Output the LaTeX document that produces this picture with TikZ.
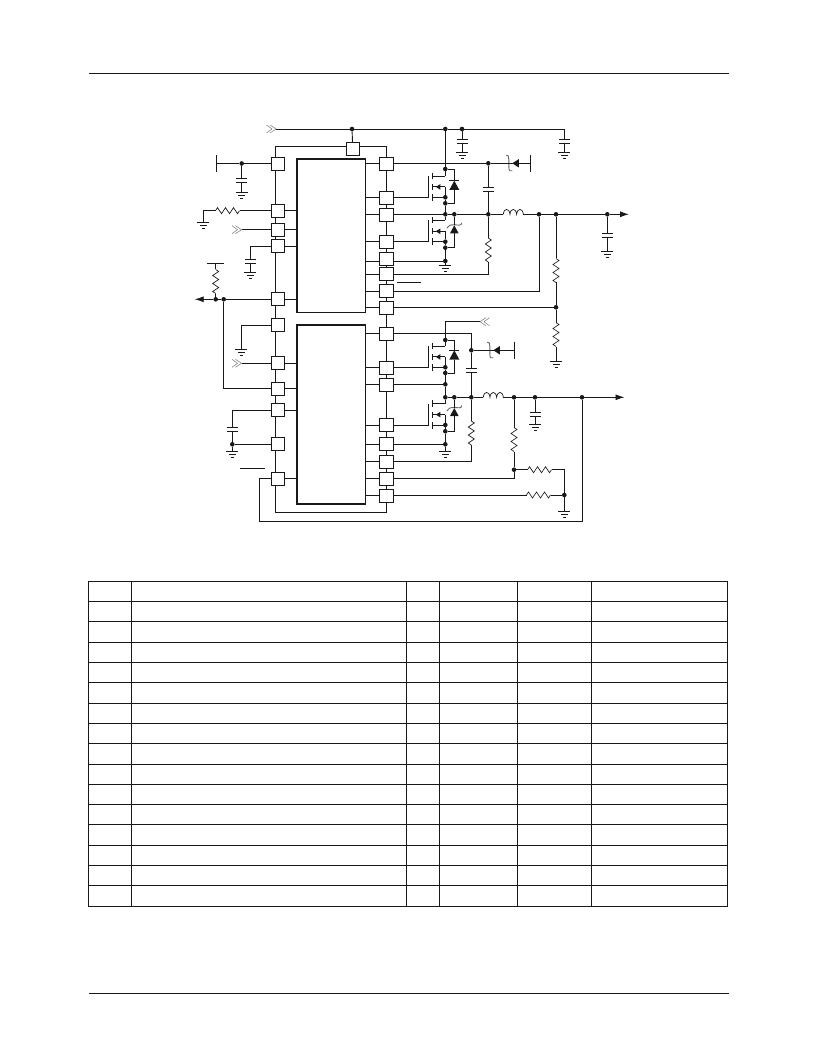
\documentclass[tikz,border=0pt]{standalone}
\usepackage{xcolor}
\usepackage{tikz}
\usetikzlibrary{calc, arrows.meta}

\begin{document}
\begin{tikzpicture}[x=1pt, y=-1pt, line width=0.9pt, color=black!90]
	\tikzset{dot/.style={circle, fill, inner sep=0pt, minimum size=4.6pt, outer sep=0pt}}
	\tikzset{pinbox/.style={draw, fill=white, rectangle, inner sep=0pt, outer sep=0pt, minimum width=13.4pt, minimum height=13pt}}
	\tikzset{chip/.style={draw, rectangle, inner sep=0pt, outer sep=0pt, minimum width=68.3pt}}
	\tikzset{edge/.style={line width=1.7pt, line cap=rect}}
	\tikzset{arrow/.style={-{Latex[length=9pt, width=6pt]}}}
	\tikzset{gnd/.pic={
		\coordinate (-in) at (0,0);
		\draw (-6,0) -- (6,0) (-3.5,3) -- (3.5,3) (-1.5,6) -- (1.5,6);
	}}
	\tikzset{capv/.pic={
		\coordinate (-a) at (0,0);
		\coordinate (-b) at (0,4);
		\draw (-5.5,0) -- (5.5,0) (-5.5,4) -- (5.5,4);
	}}
	\tikzset{res/.pic={
		\coordinate (-a) at (0,0);
		\coordinate (-b) at (24,0);
		\draw[line width=0.65pt] (0,0) -- (2,-3) -- (6,3) -- (10,-3) -- (14,3) -- (18,-3) -- (22,3) -- (24,0);
	}}
	\tikzset{ind/.pic={
		\coordinate (-a) at (0,0);
		\coordinate (-b) at (20,0);
		\draw[line width=0.7pt] (0,0) .. controls (0.5,-6.5) and (6,-6.5) .. (6.67,0) .. controls (7.2,-6.5) and (12.7,-6.5) .. (13.33,0) .. controls (13.9,-6.5) and (19.5,-6.5) .. (20,0);
	}}
	\tikzset{chev/.pic={
		\draw[gray, line width=0.55pt] (-9.5,-4) -- (-4,0) -- (-9.5,4) (-6,-4) -- (0,0) -- (-6,4);
	}}
	\tikzset{mosfet/.pic={
		\coordinate (-top) at (0,0);
		\coordinate (-mid) at (0,10.8);
		\coordinate (-gate) at (-16.6,21.2);
		\draw (-16.6,21.2) -- (-16.6,0);
		\draw (-13,-3.5) -- (-13,3) (-13,8) -- (-13,14) (-13,18) -- (-13,25);
		\draw (-13,0) -- (0,0) (-13,10.8) -- (0,10.8) (-13,21.2) -- (0,21.2);
		\fill (-9.5,10.8) -- (-5,8) -- (-5,13.6) -- cycle;
	}}
	\tikzset{diodeup/.pic={
		\fill (0,0) -- (-5,9.3) -- (5,9.3) -- cycle;
		\draw (-5,0) -- (5,0);
	}}
	\tikzset{zenerup/.pic={
		\fill (0,0) -- (-4.3,8) -- (4.3,8) -- cycle;
		\draw[black!60] (-7.5,3) .. controls (-6,0) and (-4,-0.5) .. (0,-0.5) .. controls (4,-0.5) and (7,1) .. (7.5,-2.5);
	}}
	\tikzset{zenerleft/.pic={
		\fill (0,0) -- (6.5,-4.2) -- (6.5,4.2) -- cycle;
		\draw[black!60] (-6,-8) .. controls (-4,-8.5) and (-3.5,-7) .. (-3.5,-4) -- (-3.5,4) .. controls (-3.5,7) and (-2,9) .. (0,7.5);
	}}

	\useasboundingbox (0,0) rectangle (816,1056);

	% page rules
	\coordinate (ruleal) at (89,73);
	\coordinate (rulear) at (729,73);
	\coordinate (rulebl) at (89,993);
	\coordinate (rulebr) at (729,993);
	\draw (ruleal) -- (rulear);
	\draw (rulebl) -- (rulebr);

	% table
	\foreach \i in {0,...,16}
		\draw (88.3,{581.3+\i*20.3}) -- (727.5,{581.3+\i*20.3});
	\foreach \x in {88.3,131.7,406.3,439.3,517.3,591.7,727.5}
		\draw (\x,581.3) -- (\x,906.1);

	% rails behind the pins
	\coordinate (railtl) at (275.3,146.7);
	\coordinate (railtr) at (386.3,146.7);
	\coordinate (railbl) at (275.3,512.3);
	\coordinate (railbr) at (386.3,512.3);
	\draw (railtr) -- (railtl) -- (railbl) -- (railbr) -- cycle;

	\node (chipa) [chip, minimum height=153.6pt] at (331.15,235.5) {};
	\node (chipb) [chip, minimum height=178.7pt] at (331.15,414.35) {};
	\draw[edge] (chipa.south west) -- (chipa.north west) -- (chipa.north east);
	\draw[edge] (chipb.south east) -- (chipb.south west) -- (chipb.north west) -- (chipb.north east);

	% pins
	\node (pt) [pinbox] at (352.8,148.8) {};
	\foreach \n/\yb/\yw/\c in {1/163.8/163.3/chipa, 2/197.7/197.3/chipa, 3/214.7/214.3/chipa, 4/242.3/241.7/chipa, 5/258.7/261/chipa, 6/274.3/274.3/chipa, 7/290.7/291/chipa, 8/308.3/307.3/chipa, 9/333.7/333.3/chipb, 10/367.7/367.3/chipb, 11/384.7/384.3/chipb, 12/425.3/425/chipb, 13/444.3/444.3/chipb, 14/461.7/461/chipb, 15/478.7/478.3/chipb, 16/495.7/495/chipb} {
		\node (pr\n) [pinbox, minimum width=14pt] at (386.3,\yb) {};
		\coordinate (wr\n) at (393.3,\yw);
		\draw (\c.east |- wr\n) -- (pr\n.west |- wr\n);
	}
	\foreach \n/\yb/\yw/\c in {2/210.7/210.7/chipa, 3/229.7/229.7/chipa, 4/246.3/246.3/chipa, 5/299.3/299.3/chipa, 7/363.3/363.3/chipb, 8/389.3/388.3/chipb, 9/410/410.3/chipb, 11/478.7/478.7/chipb} {
		\node (pl\n) [pinbox] at (278,\yb) {};
		\coordinate (wl\n) at (271.3,\yw);
		\draw (\c.west |- wl\n) -- (pl\n.east |- wl\n);
	}
	\foreach \n/\yb/\yw in {1/164/163.5, 6/325/325, 10/444.3/444.3} {
		\node (pl\n) [pinbox] at (278,\yb) {};
		\coordinate (wl\n) at (271.3,\yw);
	}

	% junctions
	\node (ja) [dot] at (352,129) {};
	\node (jb) [dot] at (445.3,129) {};
	\node (jc) [dot] at (462,129) {};
	\node (jd) [dot] at (241.7,163.5) {};
	\node (je) [dot] at (445.3,169) {};
	\node (jf) [dot] at (488.3,163.3) {};
	\node (jg) [dot] at (445.3,197.3) {};
	\node (jh) [dot] at (445.3,203.3) {};
	\node (ji) [dot] at (445.3,214.3) {};
	\node (jj) [dot] at (454.3,214.3) {};
	\node (jk) [dot] at (488.3,214.3) {};
	\node (jl) [dot] at (539,214.3) {};
	\node (jm) [dot] at (556,214.3) {};
	\node (jn) [dot] at (607.3,214.3) {};
	\node (jo) [dot] at (445.3,241.7) {};
	\node (jp) [dot] at (445.3,247.7) {};
	\node (jq) [dot] at (445.3,261) {};
	\node (jr) [dot] at (556,307.3) {};
	\node (js) [dot] at (215.7,299.3) {};
	\node (jt) [dot] at (223.7,299.3) {};
	\node (ka) [dot] at (445.3,340) {};
	\node (kb) [dot] at (471.3,350.3) {};
	\node (kc) [dot] at (445.3,367.3) {};
	\node (kd) [dot] at (445.3,373) {};
	\node (ke) [dot] at (445.3,384.3) {};
	\node (kf) [dot] at (445.3,397.3) {};
	\node (kg) [dot] at (454.3,397.3) {};
	\node (kh) [dot] at (471.3,397.3) {};
	\node (ki) [dot] at (514,397.3) {};
	\node (kj) [dot] at (535,397.3) {};
	\node (kk) [dot] at (582,397.3) {};
	\node (kl) [dot] at (445.3,425) {};
	\node (km) [dot] at (445.3,431.3) {};
	\node (kn) [dot] at (445.3,444.3) {};
	\node (ko) [dot] at (514,469.7) {};
	\node (kp) [dot] at (564.3,495) {};
	\node (kq) [dot] at (232.3,444.3) {};

	% parts
	\pic (mosa) at (445.3,176.1) {mosfet};
	\pic (mosb) at (445.3,220.5) {mosfet};
	\pic (mosc) at (445.3,346.1) {mosfet};
	\pic (mosd) at (445.3,403.8) {mosfet};
	\pic at (454.3,180.7) {diodeup};
	\pic at (454.3,225.3) {zenerup};
	\pic at (454.3,350.3) {diodeup};
	\pic at (454.3,408) {zenerup};
	\pic at (512.3,163.3) {zenerleft};
	\pic at (493.3,350.3) {zenerleft};

	\pic (ca) at (462,139.3) {capv};
	\pic (cb) at (564.3,139.3) {capv};
	\pic (cc) at (488.3,187.7) {capv};
	\pic (cd) at (607.3,233.3) {capv};
	\pic (ce) at (241.7,178.3) {capv};
	\pic (cf) at (250.3,259) {capv};
	\pic (cg) at (471.3,368.3) {capv};
	\pic (ch) at (232.3,427.3) {capv};
	\pic (ci) at (535,412.7) {capv};

	\pic (ga) at (462,152.7) {gnd};
	\pic (gb) at (564.3,152.7) {gnd};
	\pic (gc) at (607.3,251) {gnd};
	\pic (gd) at (445.3,265) {gnd};
	\pic (ge) at (241.7,192.7) {gnd};
	\pic (gf) at (203.3,222.3) {gnd};
	\pic (gg) at (250.3,272.7) {gnd};
	\pic (gh) at (241.3,349.3) {gnd};
	\pic (gi) at (232.3,451.7) {gnd};
	\pic (gj) at (556,361.7) {gnd};
	\pic (gk) at (445.3,451.7) {gnd};
	\pic (gl) at (535,424.3) {gnd};
	\pic (gm) at (564.3,511.3) {gnd};

	\pic[rotate=-90] (ra) at (488.3,238) {res};
	\pic[rotate=-90] (rb) at (556,258.5) {res};
	\pic[rotate=-90] (rc) at (556,322.5) {res};
	\pic (rd) at (215.5,210.7) {res};
	\pic[rotate=-90] (re) at (215.7,269.5) {res};
	\pic[rotate=-90] (rf) at (471.3,421) {res};
	\pic[rotate=-90] (rg) at (514,427.5) {res};
	\pic (rh) at (527.5,469.7) {res};
	\pic (ri) at (526.5,495) {res};

	\pic (la) at (503.3,214.3) {ind};
	\pic (lb) at (483.3,397.3) {ind};

	\pic at (276,129) {chev};
	\pic at (241.5,229.7) {chev};
	\pic at (241.5,363.3) {chev};
	\pic[rotate=180] at (480,321.7) {chev};

	% free ends and corners
	\coordinate (rail) at (276,129);
	\coordinate (railend) at (564.3,129);
	\coordinate (vbara) at (530.3,155);
	\coordinate (vbarb) at (530.3,171.7);
	\coordinate (vbarc) at (216.3,155);
	\coordinate (vbard) at (216.3,171.7);
	\coordinate (vbare) at (514.7,341.7);
	\coordinate (vbarf) at (514.7,359);
	\coordinate (hbara) at (207,263.3);
	\coordinate (hbarb) at (224,263.3);
	\coordinate (ovla) at (397.3,282.3);
	\coordinate (ovlb) at (420.7,282.3);
	\coordinate (ovlc) at (240,468.3);
	\coordinate (ovld) at (265.3,468.3);
	\coordinate (outa) at (629,214.3);
	\coordinate (outb) at (624.5,397.3);
	\coordinate (outc) at (194.7,299.3);
	\coordinate (vout) at (480,321.7);

	% upper channel
	\draw (rail) -- (ja) -- (jb) -- (jc) -- (railend) -- (cb-a);
	\draw (ja) -- (pt);
	\draw (jc) -- (ca-a);
	\draw (ca-b) -- (ga-in);
	\draw (cb-b) -- (gb-in);
	\draw (jb) -- (je) -- (mosa-top);
	\draw (mosa-mid) -- (jg) -- (jh) -- (ji) -- (mosb-top);
	\draw (mosb-mid) -- (jo) -- (jp) -- (jq) -- (gd-in);
	\draw (je) -| (454.3,180.7);
	\draw (454.3,190) |- (jh);
	\draw (jj) -- (454.3,225.3);
	\draw (454.3,233) |- (jp);
	\draw (wr1) -- (jf) -- (vbara |- jf);
	\draw (vbara) -- (vbarb);
	\draw (jf) -- (cc-a);
	\draw (cc-b) -- (jk);
	\draw (wr2) -- (mosa-gate);
	\draw (wr3) -- (ji) -- (jj) -- (jk) -- (la-a);
	\draw (wr4) -- (mosb-gate);
	\draw (wr5) -- (jq);
	\draw (la-b) -- (jl) -- (jm) -- (jn);
	\draw[arrow] (jn) -- (outa);
	\draw (jn) -- (cd-a);
	\draw (cd-b) -- (gc-in);
	\draw (jk) -- (ra-a);
	\draw (ra-b) |- (wr6);
	\draw (jl) |- (wr7);
	\draw (wr8) -- (jr);
	\draw (jm) -- (rb-a);
	\draw (rb-b) -- (jr) -- (rc-a);
	\draw (rc-b) -- (gj-in);
	\draw (ovla) -- (ovlb);

	% left side
	\draw (wl1) -- (jd) -- (vbarc |- jd);
	\draw (vbarc) -- (vbard);
	\draw (jd) -- (ce-a);
	\draw (ce-b) -- (ge-in);
	\draw (wl2) -- (rd-b);
	\draw (rd-a) -| (gf-in);
	\draw (wl3) -- (241.5,229.7);
	\draw (wl4) -| (cf-a);
	\draw (cf-b) -- (gg-in);
	\draw (wl5) -- (jt) -- (js);
	\draw[arrow] (js) -- (outc);
	\draw (hbara) -- (hbarb);
	\draw (js) -- (re-b);
	\draw (re-a) -- (js |- hbara);
	\draw (jt) |- (wl8);
	\draw (wl6) -| (gh-in);
	\draw (wl7) -- (241.5,363.3);
	\draw (wl9) -| (ch-a);
	\draw (ch-b) -- (kq) -- (gi-in);
	\draw (wl10) -- (kq);
	\draw (wl11) -- (259.3,478.7) -- (259.3,521.3) -- (582,521.3) -- (kk);
	\draw (ovlc) -- (ovld);

	% lower channel
	\draw (vout) -| (ka);
	\draw (ka) -- (mosc-top);
	\draw (mosc-mid) -- (kc) -- (kd) -- (ke) -- (kf) -- (mosd-top);
	\draw (mosd-mid) -- (kl) -- (km) -- (kn) -- (gk-in);
	\draw (ka) -| (454.3,350.3);
	\draw (454.3,359.6) |- (kd);
	\draw (kg) -- (454.3,408);
	\draw (454.3,416) |- (km);
	\draw (wr9) -| (kb);
	\draw (kb) -- (cg-a);
	\draw (cg-b) -- (kh);
	\draw (kb) -- (vbare |- kb);
	\draw (vbare) -- (vbarf);
	\draw (wr10) -- (mosc-gate);
	\draw (wr11) -- (ke);
	\draw (kf) -- (kg) -- (kh) -- (lb-a);
	\draw (lb-b) -- (ki) -- (kj) -- (kk);
	\draw[arrow] (kk) -- (outb);
	\draw (kj) -- (ci-a);
	\draw (ci-b) -- (gl-in);
	\draw (wr12) -- (mosd-gate);
	\draw (wr13) -- (kn);
	\draw (kh) -- (rf-a);
	\draw (rf-b) |- (wr14);
	\draw (ki) -- (rg-a);
	\draw (rg-b) -- (ko);
	\draw (ko) |- (wr15);
	\draw (ko) -- (rh-a);
	\draw (rh-b) -| (kp);
	\draw (wr16) -- (ri-a);
	\draw (ri-b) -- (kp) -- (gm-in);
\end{tikzpicture}
\end{document}
